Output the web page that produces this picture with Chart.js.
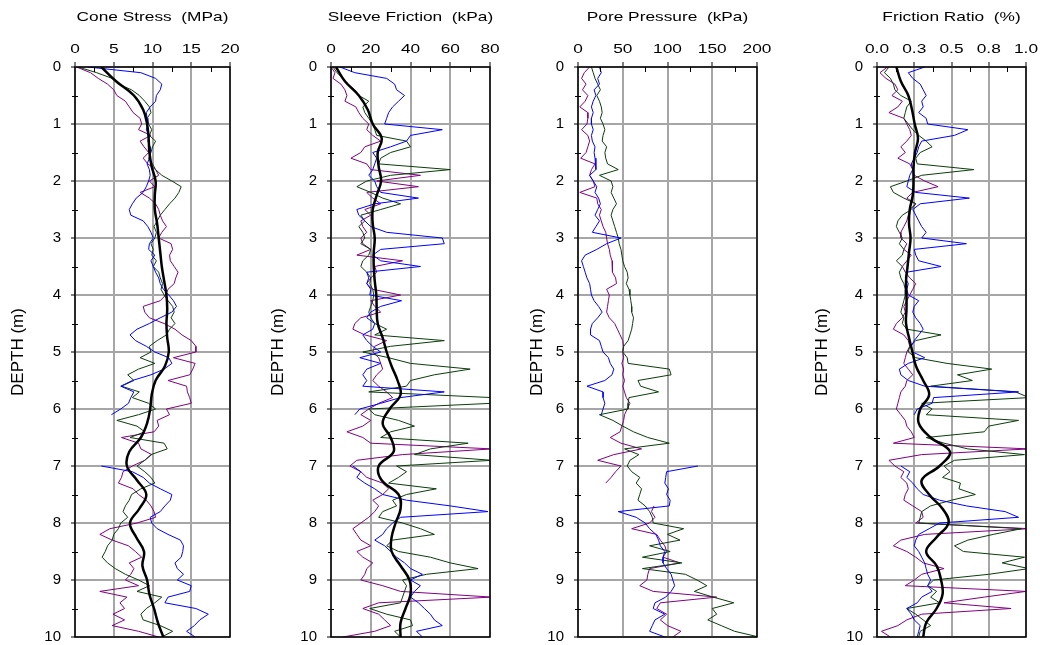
<!DOCTYPE html>
<html>
<head>
<meta charset="utf-8">
<script src="https://cdn.jsdelivr.net/npm/chart.js@4.4.1/dist/chart.umd.min.js"></script>
<style>
  html, body { margin: 0; padding: 0; background: #fff; }
  #wrap { position: relative; width: 1040px; height: 645px; overflow: hidden; }
  canvas { position: absolute; top: 0; }
</style>
</head>
<body>
<div id="wrap">
  <canvas id="cone" width="262" height="645" style="left:0px"></canvas>
  <canvas id="sleeve" width="253" height="645" style="left:262px"></canvas>
  <canvas id="pore" width="285" height="645" style="left:515px"></canvas>
  <canvas id="ratio" width="240" height="645" style="left:800px"></canvas>
</div>
<script>
// depth of the raw soundings (m) and of the smoothed mean line
const depth = [
  0, 0.1, 0.2, 0.3, 0.4, 0.5, 0.6, 0.7, 0.8, 0.9,
  1, 1.1, 1.2, 1.3, 1.4, 1.5, 1.6, 1.7, 1.8, 1.9,
  2, 2.1, 2.2, 2.3, 2.4, 2.5, 2.6, 2.7, 2.8, 2.9,
  3, 3.1, 3.2, 3.3, 3.4, 3.5, 3.6, 3.7, 3.8, 3.9,
  4, 4.1, 4.2, 4.3, 4.4, 4.5, 4.6, 4.7, 4.8, 4.9,
  5, 5.1, 5.2, 5.3, 5.4, 5.5, 5.6, 5.7, 5.8, 5.9,
  6, 6.1, 6.2, 6.3, 6.4, 6.5, 6.6, 6.7, 6.8, 6.9,
  7, 7.1, 7.2, 7.3, 7.4, 7.5, 7.6, 7.7, 7.8, 7.9,
  8, 8.1, 8.2, 8.3, 8.4, 8.5, 8.6, 8.7, 8.8, 8.9,
  9, 9.1, 9.2, 9.3, 9.4, 9.5, 9.6, 9.7, 9.8, 9.9,
  10
];
const depthMean = [
  0, 0.25, 0.5, 0.75, 1, 1.25, 1.5, 1.75, 2, 2.25,
  2.5, 2.75, 3, 3.25, 3.5, 3.75, 4, 4.25, 4.5, 4.75,
  5, 5.25, 5.5, 5.75, 6, 6.25, 6.5, 6.75, 7, 7.25,
  7.5, 7.75, 8, 8.25, 8.5, 8.75, 9, 9.25, 9.5, 9.75,
  10
];
const depthTicks = [0, 1, 2, 3, 4, 5, 6, 7, 8, 9, 10];

// Cone stress (MPa)
const coneBlue = [
  1.7, 8.5, 10.4, 11.2, 11.0, 10.5, 10.4, 9.7, 9.2, 9.3,
  9.4, 9.2, 9.6, 9.4, 9.7, 9.7, 9.6, 9.3, 9.6, 9.7,
  9.5, 9.2, 8.8, 7.9, 7.4, 7.0, 7.2, 8.8, 9.4, 9.8,
  10.1, 9.6, 9.5, 10.3, 9.8, 10.1, 10.4, 10.8, 11.0, 11.4,
  12.1, 12.7, 13.1, 12.5, 11.0, 9.6, 8.0, 7.1, 7.8, 9.2,
  10.3, 12.1, 12.5, 11.5, 9.8, 7.4, 5.9, 7.6, 7.2, 6.9,
  5.9, 4.7, null, null, null, null, null, null, null, null,
  3.4, 7.4, 8.8, 9.6, 11.0, 12.5, 12.3, 11.6, 11.0, 9.7,
  9.9, 10.6, 12.0, 13.6, 14.0, 13.9, 13.7, 12.9, 13.2, 14.0,
  13.2, 15.0, 14.8, 12.0, 11.6, 15.6, 17.2, 16.1, 15.4, 14.4,
  15.5
];
const coneGreen = [
  0.4, 2.8, 4.8, 5.6, 7.3, 8.3, 9.0, 9.6, 9.8, 9.3,
  9.5, 9.9, 9.6, 10.4, 10.0, 9.8, 9.5, 10.0, 10.4, 11.2,
  12.5, 13.7, 13.4, 12.9, 12.2, 11.6, 11.0, 10.6, 10.2, 10.5,
  10.3, 9.8, 10.1, 9.9, 10.5, 10.1, 10.8, 11.0, 11.3, 11.1,
  11.5, 12.0, 12.6, 12.8, 12.4, 12.9, 12.2, 11.8, 10.6, 9.6,
  9.8, 8.4, 10.3, 8.2, 6.8, 7.6, 6.0, 8.3, 7.4, 9.5,
  10.4, 8.2, 5.4, 8.0, 9.0, 7.1, 11.5, 11.9, 9.8, 9.0,
  8.0, 9.0, 9.8, 10.3, 8.5, 7.3, 7.0, 6.5, 6.2, 6.8,
  5.9, 5.6, 5.0, 4.8, 4.2, 3.9, 3.5, 4.2, 5.2, 6.5,
  8.2, 9.6, 8.0, 11.2, 10.3, 9.2, 8.5, 8.8, 11.0, 12.6,
  11.2
];
const conePurple = [
  0.2, 2.0, 3.0, 4.2, 5.0, 5.4, 6.5, 7.0, 7.5, 8.4,
  8.6, 8.2, 9.8, 8.4, 8.9, 9.5, 8.8, 9.4, 10.4, 10.8,
  9.6, 10.3, 8.4, 9.6, 10.4, 10.8, 11.0, 11.3, 11.8, 11.2,
  10.8, 12.4, 12.6, 12.2, 12.3, 12.8, 13.3, 13.0, 12.8, 12.0,
  11.7, 11.0, 8.8, 9.0, 9.6, 11.5, 12.9, 13.8, 15.0, 15.6,
  15.6, 12.7, 15.5, 15.2, 14.8, 12.0, 14.4, 14.5, 14.8, 15.0,
  11.8, 12.2, 10.6, 10.8, 10.2, 6.0, 8.2, 8.5, 9.9, 9.0,
  7.4, 6.2, 6.0, 5.6, 7.5, 8.2, 9.2, 9.8, 10.2, 10.4,
  8.0, 4.5, 3.2, 4.8, 6.9, 7.8, 8.6, 7.0, 7.6, 7.2,
  6.5, 8.2, 3.2, 6.7, 5.8, 6.4, 4.9, 6.4, 4.8, 8.2,
  10.8
];
const coneMean = [
  3.4, 5.3, 7.6, 8.8, 9.3, 9.5, 9.6, 9.9, 10.4, 10.3,
  10.3, 10.6, 10.8, 11.0, 11.2, 11.5, 11.8, 11.9, 11.8, 11.9,
  12.1, 11.6, 10.4, 9.9, 9.7, 9.3, 8.5, 7.0, 6.7, 8.0,
  9.2, 8.3, 7.1, 7.9, 8.9, 8.7, 9.3, 9.6, 10.2, 10.7,
  11.4
];

// Sleeve friction (kPa)
const sleeveBlue = [
  4.5, 12, 28, 32, 33, 37, 34, 31, 29, 28,
  27, 56, 40, 38, 30, 21, 23, 22, 21, 19,
  22, 23, 25, 44, 22, 13, 14, 17, 20, 28,
  56, 57, 25, 21, 25, 45, 18, 19, 18, 20,
  19.5, 35.5, 25, 20, 18, 22, 21, 16, 18, 21,
  25, 14.5, 25, 18, 16, 18, 16, 57, 35, 25,
  14.5, 12, null, null, null, null, null, null, null, null,
  11, 15, 13, 17, 22, 26, 38, 60, 79, 35,
  31, 28, 26, 22, 27, 30, 33, 37, 40, 46,
  40, 45, 42, 40, 44, 47, 50, 52, 56, 43,
  46
];
const sleeveGreen = [
  1, 3, 6, 8.5, 12, 14, 19, 16, 17, 19,
  21, 22, 23, 38, 40, 30, 25, 24, 60, 30,
  18, 13, 20, 26, 35, 25, 15, 17, 14, 16,
  17, 15, 20, 19, 16, 15, 18, 20, 19.5, 21,
  21.5, 21, 20, 19, 20, 22, 28, 22, 57, 30,
  16, 29, 40, 70, 52, 40, 38, 19, 81, 81,
  19, 22, 34, 42, 30, 25, 69, 50, 42, 81,
  33, 38, 34, 29, 53, 38, 31, 33, 26, 24,
  36, 45, 52, 31, 28, 34, 50, 60, 74, 48,
  36, 38, 37, 36, 35, 19.5, 28, 40, 41, 32,
  35
];
const sleevePurple = [
  0, 2, 1, 5, 7, 8, 7, 12.5, 14, 16,
  19, 18, 21, 25, 17, 15, 10, 18, 20, 45,
  23, 44, 18, 21, 25, 17, 20, 15, 16, 18,
  15, 16, 20, 13, 36, 22, 23, 20, 18, 21,
  35, 20, 22, 25, 15, 12, 11, 17, 28, 22,
  21, 24, 25, 26, 23, 21, 24, 28, 31, 24,
  19, 15, 20, 16, 8, 16, 20, 81, 36, 13,
  9.5, 15, 18, 26, 29, 26, 21, 24, 22, 19,
  15, 11, 13, 15, 20, 13, 16, 21, 18, 17,
  15, 26, 35, 81, 24, 16, 24, 27, 30, 22,
  6
];
const sleeveMean = [
  2.5, 7, 14, 18.5, 21, 25.5, 23.5, 24, 25.2, 23,
  21, 21, 22, 21.5, 21.5, 22, 22.8, 23, 23.5, 26,
  28, 30.5, 33.5, 35, 29.5, 26, 30, 31.5, 24, 25.5,
  34, 35, 32.5, 30.5, 30.5, 35, 39.5, 40, 37.5, 35,
  35
];

// Pore pressure (kPa)
const poreBlue = [
  24, 26, 22, 24, 18, 20, 17, 15, 17, 15,
  15, 17, 15, 16, 19, 18, 19, 20, 20, 13,
  17, 21, 19, 23, 25, 22, 19, 24, 20, 16,
  48, 32, 21, 8, 4, 6, 8, 10, 13, 14,
  15, 18, 23, 27, 22, 16, 14, 14, 24, 26,
  28, 34, 36, 40, 38, 30, 10, 28, 28, 30,
  28, 26, null, null, null, null, null, null, null, null,
  134, 99, 98, 97, 101, 99, 103, 102, 45, 65,
  75, 80, 87, 90, 92, 97, 95, 95, 99, 104,
  106, 108, 104, 98, 86, 84, 97, 86, 83, 80,
  97
];
const poreGreen = [
  15, 17, 19, 22, 25, 21, 24, 26, 27, 25,
  28, 30, 28, 27, 32, 30, 31, 33, 45, 24,
  37, 39, 37, 40, 43, 39, 37, 39, 41, 43,
  45, 46, 48, 49, 50, 52, 55, 56, 54, 57,
  58, 59, 60, 60, 62, 61, 60, 58, 56, 51,
  50, 55, 56, 102, 104, 67, 70, 90, 57, 56,
  56, 24, 39, 50, 62, 78, 102, 52, 68, 58,
  55, 60, 69, 65, 71, 69, 67, 75, 80, 83,
  84, 118, 100, 114, 80, 103, 72, 116, 72, 120,
  133, 144, 130, 151, 174, 150, 155, 145, 160, 175,
  202
];
const porePurple = [
  13, 7, 4, 9, 5, 11, 8, 2, 11, 11,
  10, 4, 11, 13, 11, 9, 3, 19, 15, 13,
  17, 19, 2, 21, 22, 26, 24, 26, 28, 31,
  32, 33, 35, 36, 38, 39, 38, 42, 43, 32,
  35, 34, 33, 32, 35, 41, 44, 47, 50, 51,
  50, 51, 49, 51, 50, 52, 50, 52, 54, 58,
  55, 52, 51, 49, 47, 36, 48, 71, 40, 22,
  48, 42, 37, 31, null, null, null, 85, 82, 86,
  80, 60, 88, 92, 97, 99, 95, 114, 80, 78,
  77, 69, 84, 155, 92, 88, 99, 92, 100, 115,
  106
];

// Friction ratio (%)
const ratioBlue = [
  0.32, 0.21, 0.24, 0.29, 0.31, 0.33, 0.30, 0.31, 0.28, 0.33,
  0.34, 0.61, 0.52, 0.30, 0.28, 0.27, 0.25, 0.23, 0.24, 0.22,
  0.21, 0.20, 0.26, 0.62, 0.29, 0.24, 0.26, 0.28, 0.30, 0.33,
  0.30, 0.60, 0.25, 0.26, 0.28, 0.43, 0.20, 0.19, 0.21, 0.20,
  0.21, 0.28, 0.25, 0.24, 0.26, 0.29, 0.31, 0.28, 0.25, 0.23,
  0.24, 0.32, 0.21, 0.15, 0.16, 0.21, 0.32, 0.95, 0.38, 0.37,
  0.27, 0.25, null, null, null, null, null, null, null, null,
  0.16, 0.22, 0.20, 0.24, 0.27, 0.31, 0.42, 0.60, 0.86, 0.95,
  0.42, 0.35, 0.28, 0.26, 0.25, 0.28, 0.30, 0.32, 0.33, 0.34,
  0.36, 0.34, 0.37, 0.30, 0.27, 0.20, 0.23, 0.25, 0.29, 0.28,
  0.27
];
const ratioGreen = [
  0.08, 0.05, 0.09, 0.11, 0.12, 0.16, 0.23, 0.20, 0.19, 0.18,
  0.21, 0.24, 0.28, 0.33, 0.37, 0.29, 0.26, 0.27, 0.65, 0.30,
  0.20, 0.09, 0.11, 0.18, 0.26, 0.23, 0.17, 0.14, 0.13, 0.15,
  0.17, 0.15, 0.18, 0.17, 0.13, 0.17, 0.15, 0.16, 0.18, 0.19,
  0.19, 0.18, 0.17, 0.16, 0.18, 0.17, 0.20, 0.43, 0.26, 0.22,
  0.21, 0.26, 0.47, 0.77, 0.54, 0.64, 0.36, 0.93, 1.02, 0.30,
  0.37, 0.33, 0.95, 0.75, 0.72, 0.33, 0.45, 0.61, 0.99, 0.52,
  0.45, 0.49, 0.44, 0.56, 0.55, 0.66, 0.50, 0.36, 0.30, 0.29,
  0.28, 0.97, 0.78, 0.61, 0.52, 0.58, 0.99, 0.84, 1.02, 0.75,
  0.38, 0.34, 0.40, 0.36, 0.42, 0.20, 0.26, 0.31, 0.36, 0.29,
  0.28
];
const ratioPurple = [
  0.07, 0.02, 0.06, 0.12, 0.14, 0.10, 0.17, 0.14, 0.08, 0.18,
  0.20, 0.22, 0.23, 0.20, 0.16, 0.19, 0.14, 0.22, 0.24, 0.25,
  0.32, 0.41, 0.24, 0.20, 0.26, 0.22, 0.21, 0.20, 0.18, 0.16,
  0.16, 0.20, 0.18, 0.23, 0.20, 0.17, 0.19, 0.22, 0.26, 0.24,
  0.22, 0.20, 0.18, 0.19, 0.17, 0.13, 0.11, 0.18, 0.21, 0.22,
  0.20, 0.19, 0.18, 0.21, 0.24, 0.20, 0.19, 0.16, 0.15, 0.14,
  0.13, 0.16, 0.19, 0.20, 0.23, 0.25, 0.11, 1.02, 0.30, 0.08,
  0.12, 0.18, 0.16, 0.20, 0.21, 0.19, 0.18, 0.24, 0.30, 0.31,
  0.26, 1.02, 0.32, 0.16, 0.11, 0.20, 0.26, 0.31, 0.45, 0.30,
  0.25, 0.19, 1.00, 0.72, 0.45, 0.90, 0.30, 0.20, 0.14, 0.03,
  0.09
];
const ratioMean = [
  0.13, 0.16, 0.21, 0.235, 0.253, 0.275, 0.255, 0.245, 0.245, 0.24,
  0.22, 0.215, 0.225, 0.215, 0.205, 0.195, 0.198, 0.198, 0.195, 0.215,
  0.238, 0.262, 0.31, 0.35, 0.29, 0.28, 0.36, 0.49, 0.42, 0.30,
  0.35, 0.44, 0.48, 0.40, 0.33, 0.40, 0.43, 0.44, 0.40, 0.33,
  0.31
];

const BLUE = '#0000ff';
const GREEN = '#0a3d0a';
const PURPLE = '#800080';
const GRID = '#a6a6a6';
const FONT = "'Liberation Sans', Arial, sans-serif";

function pts(vals, d) {
  return vals.map((v, i) => ({ x: v, y: d[i] }));
}

// text in the original is drawn wide, so stretch it sideways
function wideText(ctx, text, cx, by) {
  ctx.save();
  ctx.translate(cx, by);
  ctx.scale(1.33, 1);
  ctx.fillText(text, 0, 0);
  ctx.restore();
}

const panelDecor = {
  id: 'panelDecor',
  afterDraw(chart, args, opts) {
    const { ctx, chartArea: a } = chart;
    const x = chart.scales.x, y = chart.scales.y;
    ctx.save();
    ctx.strokeStyle = '#000';
    ctx.lineWidth = 1;
    ctx.beginPath();
    for (let i = 0; i < depthTicks.length - 1; i++) {
      const py = Math.round(y.getPixelForValue(depthTicks[i] + 0.5)) + 0.5;
      ctx.moveTo(a.left - 3, py);
      ctx.lineTo(a.left + 3, py);
    }
    x.ticks.forEach(t => {
      const v = t.value + opts.step / 2;
      if (v < x.max) {
        const px = Math.round(x.getPixelForValue(v)) + 0.5;
        ctx.moveTo(px, a.top);
        ctx.lineTo(px, a.top + 5);
      }
    });
    ctx.stroke();
    ctx.lineWidth = 1.5;
    ctx.strokeRect(a.left, a.top, a.right - a.left, a.bottom - a.top);

    ctx.fillStyle = '#000';
    ctx.textAlign = 'center';
    ctx.textBaseline = 'alphabetic';
    ctx.font = '13px ' + FONT;
    wideText(ctx, opts.title, (a.left + a.right) / 2, 21);
    x.ticks.forEach(t => {
      wideText(ctx, t.value.toFixed(opts.decimals), x.getPixelForValue(t.value), 53);
    });
    ctx.restore();
  }
};

const panels = [
  { id: 'cone', left: 0, width: 262, plotLeft: 75, plotRight: 230, yTitleAt: 18,
    title: 'Cone Stress  (MPa)', max: 20, step: 5, decimals: 0,
    mean: coneMean, blue: coneBlue, green: coneGreen, purple: conePurple },
  { id: 'sleeve', left: 262, width: 253, plotLeft: 331, plotRight: 490, yTitleAt: 278,
    title: 'Sleeve Friction  (kPa)', max: 80, step: 20, decimals: 0,
    mean: sleeveMean, blue: sleeveBlue, green: sleeveGreen, purple: sleevePurple },
  { id: 'pore', left: 515, width: 285, plotLeft: 578, plotRight: 757, yTitleAt: 537,
    title: 'Pore Pressure  (kPa)', max: 200, step: 50, decimals: 0,
    mean: null, blue: poreBlue, green: poreGreen, purple: porePurple },
  { id: 'ratio', left: 800, width: 240, plotLeft: 877, plotRight: 1026, yTitleAt: 822,
    title: 'Friction Ratio  (%)', max: 1, step: 0.25, decimals: 1,
    mean: ratioMean, blue: ratioBlue, green: ratioGreen, purple: ratioPurple }
];

panels.forEach(p => {
  const datasets = [];
  if (p.mean) {
    datasets.push({ data: pts(p.mean, depthMean), borderColor: '#000', borderWidth: 2.5, tension: 0.4 });
  }
  datasets.push({ data: pts(p.blue, depth), borderColor: BLUE, borderWidth: 1 });
  datasets.push({ data: pts(p.green, depth), borderColor: GREEN, borderWidth: 1 });
  datasets.push({ data: pts(p.purple, depth), borderColor: PURPLE, borderWidth: 1 });

  new Chart(document.getElementById(p.id).getContext('2d'), {
    type: 'line',
    data: { datasets: datasets },
    options: {
      responsive: false,
      animation: false,
      devicePixelRatio: 1,
      events: [],
      spanGaps: false,
      elements: { point: { radius: 0 }, line: { tension: 0 } },
      layout: { padding: { left: 0, top: 0, bottom: 8, right: p.width - (p.plotRight - p.left) } },
      plugins: {
        legend: { display: false },
        tooltip: { enabled: false },
        panelDecor: { title: p.title, step: p.step, decimals: p.decimals }
      },
      scales: {
        x: {
          type: 'linear', position: 'top', min: 0, max: p.max,
          afterFit: s => { s.height = 67; s.paddingLeft = 0; s.paddingRight = 0; },
          ticks: { display: false, stepSize: p.step },
          grid: { color: GRID, lineWidth: 2, tickLength: 5, tickColor: '#000', tickWidth: 1 },
          border: { display: false }
        },
        y: {
          type: 'linear', reverse: true, min: depthTicks[0], max: depthTicks[depthTicks.length - 1],
          afterFit: s => { s.width = p.plotLeft - p.left; s.paddingTop = 0; s.paddingBottom = 0; },
          ticks: { stepSize: 1, padding: 10, color: '#000', font: { family: FONT, size: 15 } },
          grid: { color: GRID, lineWidth: 2, tickLength: 4, tickColor: '#000', tickWidth: 1 },
          border: { display: false },
          title: {
            display: true, text: 'DEPTH (m)', color: '#000',
            font: { family: FONT, size: 17 },
            padding: { top: p.yTitleAt - p.left - 10.2, bottom: 0 }
          }
        }
      }
    },
    plugins: [panelDecor]
  });
});
</script>
</body>
</html>
